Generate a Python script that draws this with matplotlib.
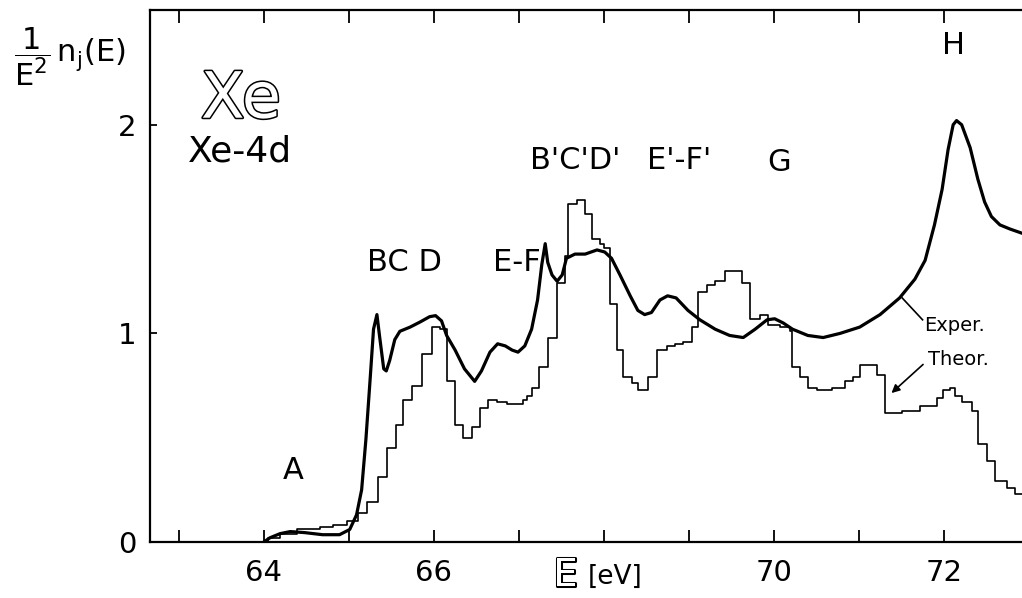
import numpy as np
import matplotlib
matplotlib.use("Agg")
import matplotlib.pyplot as plt
import matplotlib.patheffects as pe

# experimental curve (E in eV, 1/E^2 n_j(E))
exp_E = [64.00, 64.07, 64.19, 64.31, 64.48, 64.69, 64.89, 65.01, 65.09, 65.15,
         65.20, 65.25, 65.29, 65.33, 65.36, 65.41, 65.44, 65.48, 65.54, 65.60,
         65.72, 65.84, 65.95, 66.02, 66.09, 66.15, 66.25, 66.36, 66.48, 66.56,
         66.66, 66.75, 66.84, 66.92, 66.99, 67.07, 67.15, 67.22, 67.27, 67.31,
         67.34, 67.39, 67.45, 67.51, 67.56, 67.66, 67.78, 67.92, 68.01, 68.09,
         68.19, 68.31, 68.40, 68.48, 68.56, 68.66, 68.75, 68.85, 68.99, 69.13,
         69.31, 69.48, 69.64, 69.78, 69.92, 70.01, 70.11, 70.22, 70.40, 70.58,
         70.78, 71.01, 71.25, 71.48, 71.66, 71.78, 71.89, 71.98, 72.05, 72.11,
         72.15, 72.21, 72.31, 72.40, 72.48, 72.56, 72.66, 72.78, 72.92]
exp_y = [0.00, 0.02, 0.04, 0.05, 0.045, 0.035, 0.035, 0.06, 0.13, 0.25,
         0.49, 0.78, 1.02, 1.09, 0.99, 0.83, 0.82, 0.87, 0.97, 1.01,
         1.03, 1.055, 1.08, 1.085, 1.06, 0.99, 0.92, 0.83, 0.77, 0.82,
         0.91, 0.95, 0.94, 0.92, 0.91, 0.94, 1.02, 1.16, 1.33, 1.43,
         1.34, 1.28, 1.25, 1.28, 1.36, 1.38, 1.38, 1.40, 1.39, 1.36,
         1.28, 1.18, 1.11, 1.09, 1.10, 1.16, 1.18, 1.17, 1.11, 1.065,
         1.02, 0.99, 0.98, 1.02, 1.065, 1.07, 1.05, 1.02, 0.99, 0.98,
         1.00, 1.03, 1.09, 1.17, 1.26, 1.35, 1.52, 1.69, 1.88, 2.00,
         2.02, 2.00, 1.89, 1.74, 1.63, 1.56, 1.52, 1.50, 1.48]

# theoretical histogram (left edge of each step, level)
theor_E = [64.00, 64.05, 64.19, 64.39, 64.66, 64.81, 64.98, 65.11, 65.21, 65.34,
           65.45, 65.56, 65.64, 65.74, 65.86, 65.98, 66.07, 66.15, 66.25, 66.34,
           66.45, 66.54, 66.64, 66.74, 66.86, 67.05, 67.09, 67.16, 67.24, 67.34,
           67.45, 67.54, 67.58, 67.68, 67.78, 67.86, 67.95, 68.00, 68.07, 68.15,
           68.22, 68.33, 68.40, 68.52, 68.62, 68.74, 68.84, 68.93, 69.04, 69.11,
           69.21, 69.31, 69.42, 69.62, 69.72, 69.84, 69.93, 70.07, 70.19, 70.21,
           70.31, 70.40, 70.51, 70.69, 70.84, 70.93, 71.01, 71.21, 71.31, 71.51,
           71.72, 71.92, 71.99, 72.07, 72.13, 72.21, 72.33, 72.40, 72.51, 72.60,
           72.74, 72.84, 72.92]
theor_y = [0.00, 0.02, 0.04, 0.06, 0.07, 0.08, 0.10, 0.14, 0.19, 0.31,
           0.45, 0.56, 0.68, 0.75, 0.90, 1.03, 1.02, 0.77, 0.56, 0.50,
           0.55, 0.64, 0.68, 0.67, 0.66, 0.68, 0.70, 0.74, 0.84, 0.98,
           1.24, 1.37, 1.62, 1.64, 1.57, 1.45, 1.43, 1.41, 1.14, 0.92,
           0.79, 0.76, 0.73, 0.79, 0.92, 0.94, 0.95, 0.96, 1.03, 1.20,
           1.23, 1.25, 1.30, 1.24, 1.07, 1.09, 1.04, 1.03, 1.01, 0.84,
           0.79, 0.74, 0.73, 0.74, 0.77, 0.79, 0.85, 0.80, 0.62, 0.63,
           0.65, 0.69, 0.73, 0.74, 0.70, 0.67, 0.63, 0.47, 0.39, 0.29,
           0.26, 0.23, 0.23]

peak_labels = ["A", "BC D", "E-F", "B'C'D'", "E'-F'", "G", "H"]
peak_E = [64.34, 65.65, 66.98, 67.66, 68.89, 70.06, 72.11]
peak_y = [0.345, 1.34, 1.34, 1.83, 1.83, 1.82, 2.38]

x_ticks = [63, 64, 65, 66, 67, 68, 69, 70, 71, 72]
x_ticklabels = ["", "64", "", "66", "", "", "", "70", "", "72"]
y_ticks = [0, 1, 2]

plt.rcParams['font.family'] = ['DejaVu Sans']
plt.rcParams['mathtext.fontset'] = 'dejavusans'

fig = plt.figure(figsize=(10.22, 5.98), dpi=100)
ax = fig.add_axes([150 / 1022, 56 / 598, 872 / 1022, 532 / 598])

ax.plot(exp_E, exp_y, color='black', lw=2.3, solid_joinstyle='round')
ax.plot(theor_E, theor_y, color='black', lw=1.2, drawstyle='steps-post')

ax.set_xlim(62.66, 72.92)
ax.set_ylim(0, 2.55)

ax.spines['right'].set_visible(False)
for s in ['left', 'bottom', 'top']:
    ax.spines[s].set_linewidth(1.6)

ax.set_xticks(x_ticks)
ax.set_xticklabels(x_ticklabels)
ax.set_yticks(y_ticks)
ax.tick_params(axis='x', direction='in', length=9, width=1.3, top=True,
               labelsize=21, pad=12)
ax.tick_params(axis='y', direction='in', length=5, width=1.3,
               labelsize=21, pad=10)

for lab, e, y in zip(peak_labels, peak_E, peak_y):
    ax.text(e, y, lab, fontsize=22, ha='center', va='center')

hollow = [pe.withStroke(linewidth=2.2, foreground='black')]
ax.text(63.73, 2.12, "Xe", fontsize=46, ha='center', va='center',
        color='white', path_effects=hollow)
ax.text(63.72, 1.87, "Xe-4d", fontsize=26, ha='center', va='center')

# annotations for the two curves
ax.plot([71.51, 71.75], [1.17, 1.065], color='black', lw=1.2)
ax.text(71.77, 1.04, "Exper.", fontsize=14, ha='left', va='center')
ax.annotate("", xy=(71.36, 0.705), xytext=(71.78, 0.86),
            arrowprops=dict(arrowstyle='-|>', color='black', lw=1.2,
                            mutation_scale=12))
ax.text(71.81, 0.873, "Theor.", fontsize=14, ha='left', va='center')

fig.text(0.014, 0.905,
         r"$\dfrac{\mathregular{1}}{\mathregular{E^{2}}}\mathregular{\,n_j(E)}$",
         fontsize=22, ha='left', va='center')
fig.text(0.553, 0.038, "E", fontsize=28, ha='center', va='center',
         color='white', path_effects=hollow)
fig.text(0.575, 0.036, "[eV]", fontsize=19, ha='left', va='center')

fig.savefig("out.png", dpi=100)
